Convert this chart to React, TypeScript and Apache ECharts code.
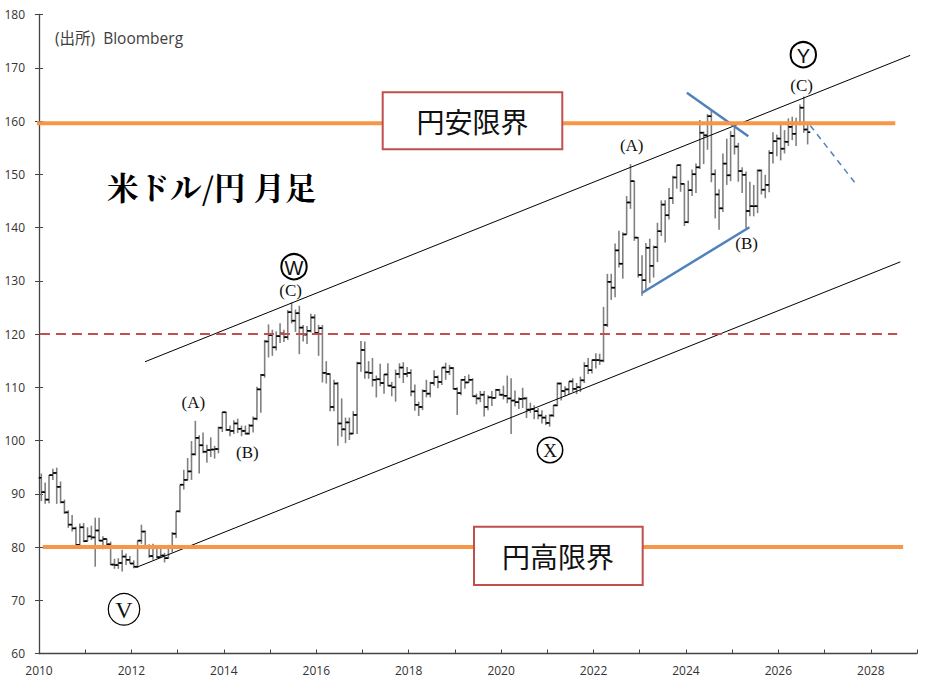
import React, { useEffect, useRef } from "react";
import * as echarts from "echarts";

// Monthly USD/JPY bars: [open, high, low, close]
const y2010 = [[93.0,93.8,88.6,90.3],[90.3,92.1,88.1,88.9],[88.9,93.5,88.2,93.5],[93.5,94.7,92.6,93.9],[93.9,94.9,88.1,91.3],[91.3,92.3,88.2,88.4],[88.4,88.9,86.2,86.5],[86.5,86.9,83.6,84.2],[84.2,86.0,82.9,83.5],[83.5,83.8,80.2,80.4],[80.4,84.4,80.2,83.7],[83.7,84.5,80.9,81.1]];
const y2011 = [[81.1,83.7,81.0,82.0],[82.0,84.0,81.3,81.8],[81.8,85.5,76.3,83.1],[83.1,85.5,81.1,81.2],[81.2,82.0,79.6,81.5],[81.5,81.6,79.7,80.5],[80.5,81.0,76.6,76.7],[76.7,77.8,75.9,76.6],[76.6,77.9,75.9,77.0],[77.0,79.5,75.4,78.2],[78.2,78.8,76.6,77.6],[77.6,78.3,76.9,76.9]];
const y2012 = [[76.9,77.5,76.0,76.3],[76.3,81.2,76.1,81.2],[81.2,84.2,80.6,82.9],[82.9,83.1,79.6,80.0],[80.0,80.5,78.0,78.3],[78.3,80.6,77.6,79.8],[79.8,80.0,77.9,78.1],[78.1,79.7,78.0,78.4],[78.4,78.9,77.1,77.9],[77.9,80.4,77.8,79.8],[79.8,82.8,79.0,82.5],[82.5,86.7,81.7,86.7]];
const y2013 = [[86.7,91.7,86.5,91.7],[91.7,94.5,90.8,92.6],[92.6,96.7,92.5,94.2],[94.2,99.9,92.6,97.4],[97.4,103.7,97.2,100.5],[100.5,101.0,93.8,99.1],[99.1,101.5,97.6,97.9],[97.9,99.2,95.8,98.2],[98.2,100.6,96.9,98.3],[98.3,99.0,96.6,98.4],[98.4,102.6,97.6,102.4],[102.4,105.4,101.6,105.3]];
const y2014 = [[105.3,105.4,101.8,102.0],[102.0,102.8,100.8,101.8],[101.8,103.8,101.2,103.2],[103.2,104.1,101.4,102.2],[102.2,102.8,100.8,101.8],[101.8,102.8,101.1,101.3],[101.3,103.1,101.1,102.8],[102.8,104.5,101.5,104.1],[104.1,110.1,103.8,109.6],[109.6,112.5,105.2,112.3],[112.3,118.9,111.8,118.6],[118.6,121.8,115.6,119.8]];
const y2015 = [[119.8,120.8,115.9,117.5],[117.5,120.5,116.9,119.6],[119.6,122.0,118.3,120.1],[120.1,120.8,118.5,119.4],[119.4,124.5,118.9,124.1],[124.1,125.9,122.0,122.5],[122.5,124.6,120.4,123.9],[123.9,125.3,116.2,121.2],[121.2,121.7,118.6,119.9],[119.9,121.5,118.1,120.6],[120.6,123.8,120.3,123.1],[123.1,123.7,120.2,120.2]];
const y2016 = [[120.2,121.7,115.9,121.1],[121.1,121.7,110.9,112.7],[112.7,114.9,110.7,112.5],[112.5,112.6,105.5,106.3],[106.3,111.4,105.5,110.7],[110.7,111.0,99.0,103.2],[103.2,107.9,100.7,102.1],[102.1,104.3,99.5,103.4],[103.4,104.3,100.1,101.3],[101.3,105.5,101.2,104.8],[104.8,114.8,101.2,114.5],[114.5,118.7,112.9,117.0]];
const y2017 = [[117.0,118.6,111.6,112.8],[112.8,114.9,111.6,112.7],[112.7,115.5,110.1,111.4],[111.4,112.2,108.1,111.5],[111.5,114.4,110.2,110.8],[110.8,112.5,108.8,112.4],[112.4,114.5,110.2,110.3],[110.3,111.0,108.3,110.0],[110.0,113.3,107.3,112.5],[112.5,114.5,111.7,113.7],[113.7,114.7,110.8,112.5],[112.5,113.8,111.9,112.7]];
const y2018 = [[112.7,113.4,108.3,109.2],[109.2,110.5,105.6,106.7],[106.7,107.3,104.6,106.3],[106.3,109.6,105.7,109.3],[109.3,111.4,108.1,108.8],[108.8,111.0,108.1,110.8],[110.8,113.2,110.3,111.9],[111.9,112.2,109.8,111.0],[111.0,113.7,110.4,113.7],[113.7,114.6,111.4,112.9],[112.9,114.2,112.3,113.6],[113.6,113.8,109.6,109.7]];
const y2019 = [[109.7,110.0,104.8,108.9],[108.9,111.5,108.5,111.4],[111.4,112.1,109.7,110.9],[110.9,112.4,110.8,111.4],[111.4,111.7,108.2,108.3],[108.3,108.8,106.8,107.9],[107.9,109.3,107.2,108.6],[108.6,109.3,104.5,106.3],[106.3,108.5,105.7,108.1],[108.1,109.3,106.5,108.0],[108.0,109.7,107.9,109.5],[109.5,109.7,108.4,108.6]];
const y2020 = [[108.6,110.3,107.7,108.4],[108.4,112.2,107.0,107.9],[107.9,111.7,101.2,107.5],[107.5,109.4,106.4,107.2],[107.2,108.1,105.9,107.8],[107.8,109.9,106.1,107.9],[107.9,108.2,104.2,105.8],[105.8,107.1,105.2,105.9],[105.9,106.6,104.0,105.5],[105.5,106.1,104.0,104.7],[104.7,105.7,103.2,104.3],[104.3,104.8,102.9,103.3]];
const y2021 = [[103.3,104.9,102.6,104.7],[104.7,106.7,104.4,106.6],[106.6,110.9,106.4,110.7],[110.7,110.9,107.5,109.3],[109.3,110.2,108.3,109.6],[109.6,111.1,108.6,111.1],[111.1,111.7,109.1,109.7],[109.7,110.8,108.7,110.0],[110.0,112.0,109.1,111.3],[111.3,114.7,110.8,114.0],[114.0,115.5,112.5,113.2],[113.2,115.2,112.6,115.1]];
const y2022 = [[115.1,116.4,113.5,115.1],[115.1,116.3,114.2,115.0],[115.0,125.1,114.7,121.7],[121.7,131.3,121.3,129.8],[129.8,131.3,126.4,128.7],[128.7,137.0,126.9,135.7],[135.7,139.4,132.5,133.2],[133.2,139.1,130.4,138.7],[138.7,145.9,138.7,144.7],[144.7,151.9,143.5,148.7],[148.7,148.8,137.5,138.1],[138.1,138.2,130.6,131.1]];
const y2023 = [[131.1,134.8,127.2,130.1],[130.1,137.1,128.1,136.2],[136.2,137.9,129.6,132.8],[132.8,136.6,130.6,136.3],[136.3,140.9,133.5,139.3],[139.3,145.1,138.4,144.3],[144.3,145.1,137.2,142.3],[142.3,147.4,141.5,145.5],[145.5,149.7,144.4,149.4],[149.4,151.7,147.3,151.7],[151.7,151.9,146.7,148.2],[148.2,148.2,140.3,141.0]];
const y2024 = [[141.0,148.8,140.8,147.0],[147.0,150.9,145.9,150.0],[150.0,152.0,146.5,151.3],[151.3,160.2,151.0,157.8],[157.8,158.0,151.9,157.3],[157.3,161.3,154.6,160.9],[160.9,162.0,148.5,150.0],[150.0,150.9,141.7,146.2],[146.2,147.2,139.6,143.6],[143.6,153.9,142.9,152.0],[152.0,156.7,148.0,149.8],[149.8,158.1,148.7,157.2]];
const y2025 = [[157.2,158.9,153.7,155.2],[155.2,155.9,148.6,150.6],[150.6,151.3,146.5,149.9],[149.9,150.5,139.9,143.1],[143.1,148.6,142.1,144.0],[144.0,148.0,142.1,144.0],[144.0,150.9,142.7,150.7],[150.7,150.9,146.2,147.1],[147.1,149.9,145.5,148.0],[148.0,154.5,146.6,154.0],[154.0,157.9,152.0,156.2],[156.2,157.4,153.4,156.7]];
const y2026 = [[156.7,159.5,152.6,154.8],[154.8,158.3,153.9,156.1],[156.1,160.5,155.3,158.9],[158.9,160.8,156.4,157.6],[157.6,160.6,155.3,159.6],[159.6,163.1,159.2,162.5],[162.5,164.6,157.8,158.4],[158.4,159.7,155.6,157.9]];

const years = [2010, 2011, 2012, 2013, 2014, 2015, 2016, 2017, 2018, 2019, 2020, 2021, 2022, 2023, 2024, 2025, 2026];
const yearBars = [y2010, y2011, y2012, y2013, y2014, y2015, y2016, y2017, y2018, y2019, y2020, y2021, y2022, y2023, y2024, y2025, y2026];

// Reference lines, [year, price]
const upperChannel = [[2012.294, 114.79], [2028.853, 172.33]];
const lowerChannel = [[2012.115, 76.2], [2028.64, 133.55]];
const blueSupport = [[2023.045, 127.71], [2025.374, 140.04]];
const blueResistance = [[2024.02, 165.3], [2025.35, 157.14]];
const blueProjection = [[2026.69, 159.15], [2027.66, 148.38]];
const yenWeakLimit = [[2009.91, 159.6], [2028.53, 159.6]];
const yenStrongLimit = [[2010.08, 80.0], [2028.7, 80.0]];
const level120 = [[2010.02, 120], [2028.57, 120]];

const barData: number[][] = [];
yearBars.forEach((rows, yi) => {
  rows.forEach((r, m) => {
    barData.push([years[yi] + (m + 0.6) / 12, r[0], r[1], r[2], r[3]]);
  });
});

const renderBar = (params: any, api: any) => {
  const t = api.value(0);
  const pO = api.coord([t, api.value(1)]);
  const pH = api.coord([t, api.value(2)]);
  const pL = api.coord([t, api.value(3)]);
  const pC = api.coord([t, api.value(4)]);
  return {
    type: "group",
    children: [
      { type: "line", shape: { x1: pH[0], y1: pH[1], x2: pL[0], y2: pL[1] }, style: { stroke: "#808080", lineWidth: 1.6 } },
      { type: "line", shape: { x1: pO[0] - 2.6, y1: pO[1], x2: pO[0], y2: pO[1] }, style: { stroke: "#000", lineWidth: 1.6 } },
      { type: "line", shape: { x1: pC[0], y1: pC[1], x2: pC[0] + 2.6, y2: pC[1] }, style: { stroke: "#000", lineWidth: 1.6 } },
    ],
  };
};

const lineSeries = (name: string, data: number[][], color: string, width: number, type: any = "solid", z = 5) => ({
  type: "line",
  name,
  data,
  symbol: "none",
  silent: true,
  clip: false,
  z,
  lineStyle: { color, width, type },
});

const serif = "'Liberation Serif', 'DejaVu Serif', serif";
const cjk = "'Noto Sans CJK JP', sans-serif";

const txt = (text: string, x: number, y: number, size: number, font: string, extra: any = {}) => ({
  type: "text",
  x,
  y,
  z: 100,
  style: {
    text,
    fontSize: size,
    fontFamily: font,
    fill: "#111",
    align: "center",
    verticalAlign: "middle",
    textAlign: "center",
    textVerticalAlign: "middle",
    ...extra,
  },
});

const circ = (cx: number, cy: number, r: number, lw: number) => ({
  type: "circle",
  z: 100,
  shape: { cx, cy, r },
  style: { fill: "none", stroke: "#000", lineWidth: lw },
});

const option: any = {
  animation: false,
  backgroundColor: "#fff",
  grid: { left: 39, right: 28, top: 14.5, bottom: 33.5 },
  xAxis: {
    type: "value",
    min: 2010,
    max: 2029,
    interval: 1,
    axisLine: { lineStyle: { color: "#444", width: 1.3 } },
    axisTick: { inside: true, length: 4, lineStyle: { color: "#444" } },
    axisLabel: {
      color: "#333",
      fontSize: 12,
      fontFamily: "'Open Sans', sans-serif",
      margin: 11,
      formatter: (v: number) => (v % 2 === 0 ? String(v) : ""),
    },
    splitLine: { show: false },
  },
  yAxis: [
    {
      type: "value",
      min: 60,
      max: 180,
      interval: 10,
      axisLine: { show: true, lineStyle: { color: "#444", width: 1.3 } },
      axisTick: { show: true, length: 4, lineStyle: { color: "#444" } },
      axisLabel: { color: "#333", fontSize: 12, fontFamily: "'Open Sans', sans-serif", margin: 14 },
      splitLine: { show: false },
    },
    {
      type: "value",
      min: 60,
      max: 180,
      interval: 10,
      position: "left",
      axisLine: { show: false },
      axisTick: { show: true, inside: true, length: 4, lineStyle: { color: "#444" } },
      axisLabel: { show: false },
      splitLine: { show: false },
    },
  ],
  series: [
    {
      type: "custom",
      name: "USDJPY",
      data: barData,
      renderItem: renderBar,
      encode: { x: 0, y: [1, 2, 3, 4] },
      z: 2,
      silent: true,
    },
    lineSeries("upper", upperChannel, "#000", 1),
    lineSeries("lower", lowerChannel, "#000", 1),
    lineSeries("120", level120, "#c0504d", 2.2, [10, 6]),
    lineSeries("weak", yenWeakLimit, "#f79646", 4, "solid", 6),
    lineSeries("strong", yenStrongLimit, "#f79646", 4, "solid", 6),
    lineSeries("support", blueSupport, "#4f81bd", 2.5),
    lineSeries("resistance", blueResistance, "#4f81bd", 2.5),
    lineSeries("projection", blueProjection, "#4f81bd", 1.5, [6, 5]),
  ],
  graphic: [
    txt("(出所)  Bloomberg", 55, 38, 15.5, "'Open Sans', 'Noto Sans CJK JP', sans-serif", { align: "left", textAlign: "left", fill: "#404040" }),
    txt("米ドル/円 月足", 107, 186, 31.5, "'Noto Serif CJK JP', 'Noto Sans CJK JP', serif", { align: "left", textAlign: "left", fontWeight: "bold", fill: "#000" }),
    {
      type: "rect",
      z: 99,
      shape: { x: 382.7, y: 92.3, width: 179.6, height: 57 },
      style: { fill: "#fff", stroke: "#c0504d", lineWidth: 2 },
    },
    txt("円安限界", 472.5, 121, 28, cjk),
    {
      type: "rect",
      z: 99,
      shape: { x: 474, y: 526.7, width: 168.7, height: 58.3 },
      style: { fill: "#fff", stroke: "#c0504d", lineWidth: 2 },
    },
    txt("円高限界", 558, 556, 28, cjk),
    circ(124, 609.3, 15.7, 1.2),
    txt("V", 124, 610, 24, serif),
    circ(294, 266.7, 12.7, 2),
    txt("W", 294, 267.5, 20, "'Liberation Sans', sans-serif"),
    circ(550, 450, 12.7, 1.5),
    txt("X", 550, 450.5, 19, serif),
    circ(803.3, 54.7, 12.7, 2),
    txt("Y", 803.3, 55.5, 20, "'Liberation Sans', sans-serif"),
    txt("(A)", 193.3, 402, 17, serif),
    txt("(B)", 247.3, 452, 17, serif),
    txt("(C)", 290.7, 290, 17, serif),
    txt("(A)", 631.7, 145, 17, serif),
    txt("(B)", 746.7, 243.3, 17, serif),
    txt("(C)", 801.7, 85, 17, serif),
  ],
};

export default function App() {
  const ref = useRef<HTMLDivElement>(null);
  useEffect(() => {
    const chart = echarts.init(ref.current as HTMLDivElement, null, { renderer: "svg" });
    chart.setOption(option);
    return () => chart.dispose();
  }, []);
  return (
    <div
      ref={ref}
      style={{ position: "absolute", left: 0, top: 0, width: 945, height: 687, background: "#fff" }}
    />
  );
}
